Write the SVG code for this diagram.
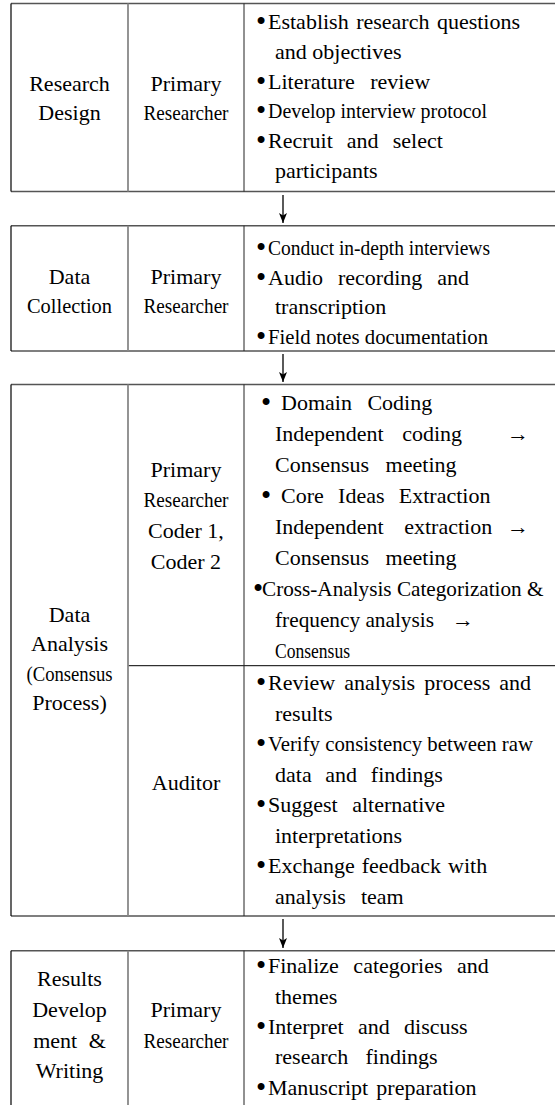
<svg xmlns="http://www.w3.org/2000/svg" width="555" height="1105" viewBox="0 0 555 1105">
<style>
.t{font-family:"Liberation Serif","Times New Roman",serif;font-size:22px;fill:#000}
.c{text-anchor:middle}
.b{font-size:29px}
.hb{stroke:#555;stroke-width:1.4;fill:none}
.lb{stroke:#000;stroke-width:1.2;fill:none}
.d1{stroke:#888;stroke-width:1.8;fill:none}
.d2{stroke:#222;stroke-width:1;fill:none}
.sd{stroke:#000;stroke-width:1;fill:none}
.ar{stroke:#000;stroke-width:1.3;fill:none}
</style>
<defs>
<marker id="ah" viewBox="0 0 10 8" refX="10" refY="4" markerWidth="10" markerHeight="8" markerUnits="userSpaceOnUse" orient="auto">
<path d="M0,0 L10,4 L0,8 L2.5,4 Z" fill="#000"/>
</marker>
</defs>

<g id="research-design">
<line class="hb" x1="11" y1="3.5" x2="555" y2="3.5"/>
<line class="hb" x1="11" y1="191.5" x2="555" y2="191.5"/>
<line class="lb" x1="11" y1="3.5" x2="11" y2="191.5"/>
<line class="d1" x1="128" y1="3.5" x2="128" y2="191.5"/>
<line class="d2" x1="244" y1="3.5" x2="244" y2="191.5"/>
<text class="t c" x="69.5" y="91">Research</text>
<text class="t c" x="69.5" y="120">Design</text>
<text class="t c" x="186" y="91">Primary</text>
<text class="t c" x="186" y="120" textLength="85" lengthAdjust="spacingAndGlyphs">Researcher</text>
<text class="t"><tspan class="b" x="256" y="31">•</tspan><tspan x="268" y="29" style="word-spacing:2px">Establish research questions</tspan></text>
<text class="t" x="275" y="58.8">and objectives</text>
<text class="t"><tspan class="b" x="256" y="90.6">•</tspan><tspan x="268" y="88.6" style="word-spacing:10px">Literature review</tspan></text>
<text class="t"><tspan class="b" x="256" y="120.4">•</tspan><tspan x="268" y="118.4" textLength="219" lengthAdjust="spacingAndGlyphs">Develop interview protocol</tspan></text>
<text class="t"><tspan class="b" x="256" y="150.2">•</tspan><tspan x="268" y="148.2" style="word-spacing:8.6px">Recruit and select</tspan></text>
<text class="t" x="275" y="178">participants</text>
</g>

<g id="data-collection">
<line class="hb" x1="11" y1="225.7" x2="555" y2="225.7"/>
<line class="hb" x1="11" y1="351" x2="555" y2="351"/>
<line class="lb" x1="11" y1="225.7" x2="11" y2="351"/>
<line class="d1" x1="128" y1="225.7" x2="128" y2="351"/>
<line class="d2" x1="244" y1="225.7" x2="244" y2="351"/>
<text class="t c" x="69.5" y="284">Data</text>
<text class="t c" x="69.5" y="313" textLength="85" lengthAdjust="spacingAndGlyphs">Collection</text>
<text class="t c" x="186" y="284">Primary</text>
<text class="t c" x="186" y="313" textLength="85" lengthAdjust="spacingAndGlyphs">Researcher</text>
<text class="t"><tspan class="b" x="256" y="257">•</tspan><tspan x="268" y="255" textLength="222" lengthAdjust="spacingAndGlyphs">Conduct in-depth interviews</tspan></text>
<text class="t"><tspan class="b" x="256" y="286.5">•</tspan><tspan x="268" y="284.5" style="word-spacing:9.5px">Audio recording and</tspan></text>
<text class="t" x="275" y="314">transcription</text>
<text class="t"><tspan class="b" x="256" y="345.5">•</tspan><tspan x="268" y="343.5" textLength="220" lengthAdjust="spacingAndGlyphs">Field notes documentation</tspan></text>
</g>

<g id="data-analysis">
<line class="hb" x1="11" y1="384.5" x2="555" y2="384.5"/>
<line class="hb" x1="11" y1="916" x2="555" y2="916"/>
<line class="sd" x1="128" y1="665.7" x2="555" y2="665.7"/>
<line class="lb" x1="11" y1="384.5" x2="11" y2="916"/>
<line class="d1" x1="128" y1="384.5" x2="128" y2="916"/>
<line class="d2" x1="244" y1="384.5" x2="244" y2="916"/>
<text class="t c" x="69.5" y="622">Data</text>
<text class="t c" x="69.5" y="651">Analysis</text>
<text class="t c" x="69.5" y="680.5" textLength="86" lengthAdjust="spacingAndGlyphs">(Consensus</text>
<text class="t c" x="69.5" y="710">Process)</text>
<text class="t c" x="186" y="477">Primary</text>
<text class="t c" x="186" y="507" textLength="85" lengthAdjust="spacingAndGlyphs">Researcher</text>
<text class="t c" x="186" y="538">Coder 1,</text>
<text class="t c" x="186" y="568.5">Coder 2</text>
<text class="t"><tspan class="b" x="261" y="412">•</tspan><tspan x="281" y="410" style="word-spacing:10px">Domain Coding</tspan></text>
<text class="t" y="441"><tspan x="275" style="word-spacing:13px">Independent coding</tspan><tspan x="507">→</tspan></text>
<text class="t" x="275" y="472" style="word-spacing:11px">Consensus meeting</text>
<text class="t"><tspan class="b" x="261" y="505">•</tspan><tspan x="281" y="503" style="word-spacing:8.8px">Core Ideas Extraction</tspan></text>
<text class="t" y="534"><tspan x="275" style="word-spacing:15px">Independent extraction</tspan><tspan x="507">→</tspan></text>
<text class="t" x="275" y="565" style="word-spacing:11px">Consensus meeting</text>
<text class="t"><tspan class="b" x="253" y="598">•</tspan><tspan x="262" y="596" textLength="281.5" lengthAdjust="spacingAndGlyphs">Cross-Analysis Categorization &amp;</tspan></text>
<text class="t" y="627"><tspan x="275" textLength="159" lengthAdjust="spacingAndGlyphs">frequency analysis</tspan><tspan x="452">→</tspan></text>
<text class="t" x="275" y="658" textLength="75" lengthAdjust="spacingAndGlyphs">Consensus</text>
<text class="t c" x="186" y="790">Auditor</text>
<text class="t"><tspan class="b" x="256" y="692">•</tspan><tspan x="268" y="690" style="word-spacing:3.6px">Review analysis process and</tspan></text>
<text class="t" x="275" y="720.5">results</text>
<text class="t"><tspan class="b" x="256" y="753">•</tspan><tspan x="268" y="751" textLength="265" lengthAdjust="spacingAndGlyphs">Verify consistency between raw</tspan></text>
<text class="t" x="275" y="781.5" style="word-spacing:8.2px">data and findings</text>
<text class="t"><tspan class="b" x="256" y="814">•</tspan><tspan x="268" y="812" style="word-spacing:9px">Suggest alternative</tspan></text>
<text class="t" x="275" y="842.5">interpretations</text>
<text class="t"><tspan class="b" x="256" y="875">•</tspan><tspan x="268" y="873" style="word-spacing:1.5px">Exchange feedback with</tspan></text>
<text class="t" x="275" y="903.5" style="word-spacing:9.6px">analysis team</text>
</g>

<g id="results-writing">
<line class="hb" x1="11" y1="950.7" x2="555" y2="950.7"/>
<line class="lb" x1="11" y1="950.7" x2="11" y2="1105"/>
<line class="d1" x1="128" y1="950.7" x2="128" y2="1105"/>
<line class="d2" x1="244" y1="950.7" x2="244" y2="1105"/>
<text class="t c" x="69.5" y="986">Results</text>
<text class="t c" x="69.5" y="1017">Develop</text>
<text class="t c" x="69.5" y="1047.5" style="word-spacing:6px">ment &amp;</text>
<text class="t c" x="69.5" y="1078">Writing</text>
<text class="t c" x="186" y="1017">Primary</text>
<text class="t c" x="186" y="1047.5" textLength="85" lengthAdjust="spacingAndGlyphs">Researcher</text>
<text class="t"><tspan class="b" x="256" y="975">•</tspan><tspan x="268" y="973" style="word-spacing:9px">Finalize categories and</tspan></text>
<text class="t" x="275" y="1003.5">themes</text>
<text class="t"><tspan class="b" x="256" y="1036">•</tspan><tspan x="268" y="1034" style="word-spacing:8.8px">Interpret and discuss</tspan></text>
<text class="t" x="275" y="1064" style="word-spacing:11.7px">research findings</text>
<text class="t"><tspan class="b" x="256" y="1097">•</tspan><tspan x="268" y="1095" style="word-spacing:2.6px">Manuscript preparation</tspan></text>
</g>

<g id="connectors">
<line class="ar" x1="283" y1="195" x2="283" y2="223" marker-end="url(#ah)"/>
<line class="ar" x1="283" y1="354" x2="283" y2="382" marker-end="url(#ah)"/>
<line class="ar" x1="283" y1="919" x2="283" y2="948" marker-end="url(#ah)"/>
</g>
</svg>
